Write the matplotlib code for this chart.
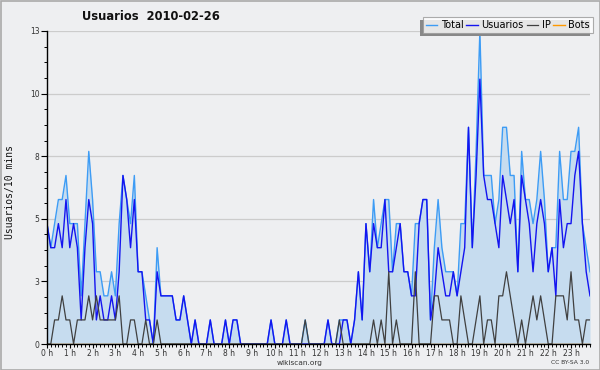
import matplotlib
matplotlib.use("Agg")
import matplotlib.pyplot as plt
from matplotlib.patches import Rectangle
from matplotlib.ticker import MultipleLocator

# ---- data (users per 10 minutes, 144 slots) ----
usuarios = [5,4,4,5,4,6,4,5,4,1, 4,6,5,1,2,1,1,2,1,3,
            7,6,4,6,3,3,1,1,0,3, 2,2,2,2,1,1,2,1,0,1,
            0,0,0,1,0,0,0,1,0,1, 1,0,0,0,0,0,0,0,0,1,
            0,0,0,1,0,0,0,0,0,0, 0,0,0,0,1,0,0,0,1,1,
            0,1,3,1,5,3,5,4,4,6, 3,3,4,5,3,3,2,2,5,6,
            6,1,2,4,3,2,2,3,2,3, 4,9,4,7,11,7,6,6,5,4,
            7,6,5,6,3,7,6,5,3,5, 6,5,3,4,2,6,4,5,5,7,
            8,5,3,2]
ip = [0,0,1,1,2,1,1,0,1,1, 1,2,1,2,1,1,1,1,1,2,
      0,0,1,1,0,0,1,0,0,1, 0,0,0,0,0,0,0,0,0,0,
      0,0,0,0,0,0,0,0,0,0, 0,0,0,0,0,0,0,0,0,0,
      0,0,0,0,0,0,0,0,1,0, 0,0,0,0,0,0,0,1,0,0,
      0,0,0,0,0,0,1,0,1,0, 3,0,1,0,0,0,0,3,0,0,
      0,0,2,2,1,1,1,0,0,2, 1,0,0,1,2,0,1,1,0,2,
      2,3,2,1,0,1,0,1,2,1, 2,1,0,0,2,2,2,1,3,1,
      1,0,1,1]
total = [5,4,5,6,6,7,5,5,5,2, 5,8,6,3,3,2,2,3,2,5,
         7,6,5,7,3,3,2,1,0,4, 2,2,2,2,1,1,2,1,0,1,
         0,0,0,1,0,0,0,1,0,1, 1,0,0,0,0,0,0,0,0,1,
         0,0,0,1,0,0,0,0,1,0, 0,0,0,0,1,0,0,1,1,1,
         0,1,3,1,5,3,6,4,5,6, 6,3,5,5,3,3,2,5,5,6,
         6,1,4,6,4,3,3,3,2,5, 5,9,4,8,13,7,7,7,5,6,
         9,9,7,7,3,8,6,6,5,6, 8,6,3,4,4,8,6,6,8,8,
         9,5,4,3]
bots = [0] * 144
hour_labels = [f"{h} h" for h in range(24)]
ytick_values = [0, 2.6, 5.2, 7.8, 10.4, 13]
ytick_labels = ["0", "3", "5", "8", "10", "13"]

BG = "#eeeff1"
fig = plt.figure(figsize=(6, 3.7), dpi=100, facecolor=BG)
ax = fig.add_axes([47/600, 1-344/370, 543/600, 313/370], facecolor=BG)

x = list(range(len(total)))
ax.fill_between(x, 0, total, color="#c6dcef", lw=0, zorder=1)
ax.plot(x, bots, color="#ff9900", lw=1.0, zorder=1.5)
l_total, = ax.plot(x, total, color="#3d9cf5", lw=1.0, zorder=2)
l_users, = ax.plot(x, usuarios, color="#1414f0", lw=1.0, zorder=2.1)
l_ip, = ax.plot(x, ip, color="#404040", lw=0.9, zorder=2.2)
l_bots, = ax.plot([], [], color="#ff9900", lw=1.0)

ax.set_xlim(0, len(total) - 1)
ax.set_ylim(0, 13)
for s in ("top", "right"):
    ax.spines[s].set_visible(False)
for s in ("left", "bottom"):
    ax.spines[s].set_color("black")
    ax.spines[s].set_linewidth(1.0)
    ax.spines[s].set_zorder(3)

ax.set_yticks(ytick_values)
ax.set_yticklabels(ytick_labels)
ax.yaxis.set_minor_locator(MultipleLocator(0.65))
ax.set_xticks([6*h for h in range(24)])
ax.set_xticklabels(hour_labels)
ax.xaxis.set_minor_locator(MultipleLocator(1))
ax.tick_params(axis="both", which="major", labelsize=5.5, labelcolor="#333333",
               length=4, width=0.8, direction="out", pad=1.5)
ax.tick_params(axis="both", which="minor", length=2.5, width=0.7, direction="out")
ax.tick_params(axis="x", which="major", length=3, pad=0.5)
ax.grid(axis="y", which="major", color="#cccccc", lw=0.9, zorder=0)
ax.set_axisbelow(True)

fig.text(151/600, 1-17/370, "Usuarios  2010-02-26", ha="center", va="center",
         fontsize=8.3, fontweight="bold", color="#111111")
fig.text(10/600, 1-192/370, "Usuarios/10 mins", rotation=90, ha="center", va="center",
         fontsize=7, family="DejaVu Sans Mono", color="#111111")
fig.text(300/600, 1-363/370, "wikiscan.org", ha="center", va="center",
         fontsize=5.3, color="#333333")
fig.text(589/600, 1-363/370, "CC BY-SA 3.0", ha="right", va="center",
         fontsize=4.3, color="#333333")

leg = fig.legend([l_total, l_users, l_ip, l_bots], ["Total", "Usuarios", "IP", "Bots"],
                 ncol=4, loc="upper right", bbox_to_anchor=(593/600, 1-17/370),
                 fontsize=7, frameon=True, fancybox=False, handlelength=1.2,
                 handletextpad=0.35, columnspacing=0.3, borderpad=0.3,
                 borderaxespad=0)
leg.get_frame().set_edgecolor("#999999")
leg.get_frame().set_facecolor("white")
leg.get_frame().set_linewidth(0.8)
leg.set_zorder(10)

fig.canvas.draw()
bb = leg.get_window_extent().transformed(fig.transFigure.inverted())
fig.patches.append(Rectangle((bb.x0 - 3/600, bb.y0 - 3/370), bb.width, bb.height,
                             transform=fig.transFigure, facecolor="#888888",
                             edgecolor="none", zorder=9))
fig.patches.append(Rectangle((0.5/600, 0.5/370), 599/600, 369/370, transform=fig.transFigure,
                             facecolor="none", edgecolor="#aaaaaa", lw=1.2, zorder=20))

fig.savefig("out.png", dpi=100, facecolor=BG)
